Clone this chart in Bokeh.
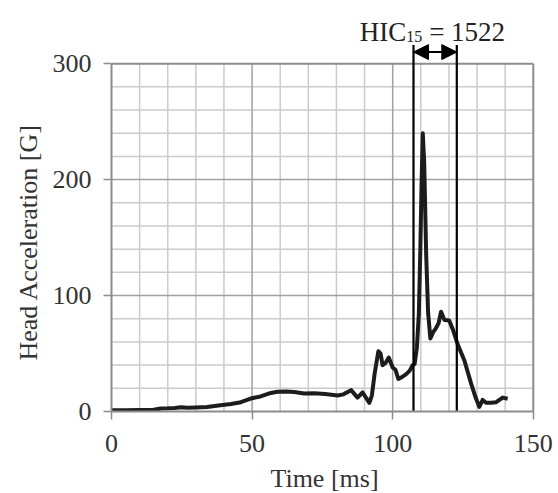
from bokeh.plotting import figure
from bokeh.models import Range1d, FixedTicker, Arrow, NormalHead, Title
from bokeh.core.properties import value
from bokeh.embed import file_html
from bokeh.resources import INLINE

# ---- data ----
time_ms = [0, 5, 10, 15, 17.5, 20, 22.5, 24.7, 27, 30, 34, 38, 42.5, 46, 50, 53, 56.7, 59,
           62, 65, 68.5, 72, 76, 80.4, 82.5, 85.2, 87.5, 89.3, 91.7, 92.6, 93.6, 94.9,
           95.7, 96.4, 97.5, 98.6, 100, 101, 102, 103.5, 104.7, 106, 107.1, 107.8, 108.6,
           109.3, 109.8, 110.3, 110.7, 111.2, 111.9, 112.6, 113.4, 114.3, 115.4, 116.3,
           117.2, 118.4, 120.1, 121.5, 123.1, 125.5, 127.9, 129.5, 130.8, 132, 133.2, 135,
           136.8, 139.1, 140.9]
accel_g = [1.0, 1.0, 1.2, 1.5, 2.6, 2.7, 3.0, 3.6, 3.2, 3.4, 3.8, 5.2, 6.4, 8.0, 11.5, 13.0,
           16.0, 17.0, 17.3, 16.8, 15.6, 15.8, 15.0, 13.8, 14.8, 18.4, 12.0, 16.4, 7.5, 14.0,
           33.0, 52.0, 50.0, 40.0, 42.0, 46.5, 38.0, 36.0, 28.0, 30.0, 32.0, 35.0, 40.0, 41.0,
           55.0, 84.0, 136.0, 200.0, 240.0, 215.0, 136.0, 85.0, 63.0, 68.0, 72.0, 76.0,
           86.0, 79.0, 78.5, 70.0, 58.0, 44.0, 24.0, 12.0, 4.0, 10.0, 7.5, 7.5,
           8.0, 12.0, 11.0]
hic_window = [107.4, 122.8]
hic_text = ["HIC", "15", "= 1522"]
x_ticks = [0, 50, 100, 150]
y_ticks = [0, 100, 200, 300]
x_minor = list(range(10, 150, 10))
y_minor = list(range(20, 300, 20))

FONT = "Liberation Serif"
GRID_LIGHT = "#cbcbcb"
GRID_DARK = "#a0a0a0"
FRAME = "#8c8c8c"
INK = "#1c1c1c"
TEXT = "#333333"

FRAME_W, FRAME_H = 426, 400
X_END, Y_END = 151.5, 345

x0, x1 = x_ticks[0], x_ticks[-1]
y0, y1 = y_ticks[0], y_ticks[-1]

p = figure(frame_width=FRAME_W, frame_height=FRAME_H,
           x_range=Range1d(0, X_END), y_range=Range1d(0, Y_END),
           min_border_left=111, min_border_right=19, min_border_top=11, min_border_bottom=82,
           output_backend="svg", toolbar_location=None)
p.outline_line_color = None
p.xgrid.visible = False
p.ygrid.visible = False
p.background_fill_color = "white"

# minor grid
light_x = [v for v in x_minor if v not in x_ticks]
light_y = [v for v in y_minor if v not in y_ticks]
p.segment(x0=light_x, y0=[y0] * len(light_x), x1=light_x, y1=[y1] * len(light_x),
          line_color=GRID_LIGHT, line_width=1.5)
p.segment(x0=[x0] * len(light_y), y0=light_y, x1=[x1] * len(light_y), y1=light_y,
          line_color=GRID_LIGHT, line_width=1.5)
# major grid
mx = x_ticks[1:-1]
my = y_ticks[1:-1]
p.segment(x0=mx, y0=[y0] * len(mx), x1=mx, y1=[y1] * len(mx),
          line_color=GRID_DARK, line_width=1.5)
p.segment(x0=[x0] * len(my), y0=my, x1=[x1] * len(my), y1=my,
          line_color=GRID_DARK, line_width=1.5)
# top & right frame
p.segment(x0=[x0, x1], y0=[y1, y0], x1=[x1, x1], y1=[y1, y1],
          line_color=FRAME, line_width=2)

# curve
p.line(time_ms, accel_g, line_color=INK, line_width=4, line_join="round")

# HIC window
p.segment(x0=hic_window, y0=[0, 0], x1=hic_window, y1=[316, 316],
          line_color="black", line_width=2.2)
p.add_layout(Arrow(start=NormalHead(size=15, fill_color="black", line_color="black"),
                   end=NormalHead(size=15, fill_color="black", line_color="black"),
                   x_start=hic_window[0], x_end=hic_window[1], y_start=310, y_end=310,
                   line_color="black", line_width=2))
mid = (hic_window[0] + hic_window[1]) / 2
p.text(x=[mid], y=[327], text=[hic_text[0]], text_font=value(FONT), text_font_size="27px",
       text_align="right", text_baseline="alphabetic", x_offset=-29, text_color="#222222")
p.text(x=[mid], y=[327], text=[hic_text[1]], text_font=value(FONT), text_font_size="16px",
       text_align="left", text_baseline="alphabetic", x_offset=-29, y_offset=4,
       text_color="#222222")
p.text(x=[mid], y=[327], text=[hic_text[2]], text_font=value(FONT), text_font_size="27px",
       text_align="left", text_baseline="alphabetic", x_offset=-6, text_color="#222222")

# axes
for ax, ticks, bnds in ((p.xaxis[0], x_ticks, (x0, x1)), (p.yaxis[0], y_ticks, (y0, y1))):
    ax.ticker = FixedTicker(ticks=ticks)
    ax.bounds = bnds
    ax.axis_line_color = FRAME
    ax.axis_line_width = 2
    ax.major_tick_line_color = FRAME
    ax.major_tick_line_width = 1.5
    ax.major_tick_out = 8
    ax.major_tick_in = 0
    ax.minor_tick_line_color = None
    ax.major_label_text_font = FONT
    ax.major_label_text_font_size = "26px"
    ax.major_label_text_color = TEXT
    ax.axis_label_text_font = FONT
    ax.axis_label_text_font_size = "26px"
    ax.axis_label_text_font_style = "normal"
    ax.axis_label_text_color = TEXT

p.xaxis.axis_label = "Time [ms]"
p.xaxis.major_label_standoff = 15
p.xaxis.axis_label_standoff = 9
p.xaxis.axis_label_text_line_height = 1.0
p.yaxis.major_label_standoff = 12

# y-axis title: starts at the bottom of the frame, lifted to sit on the 0-300 span
p.add_layout(Title(text="Head Acceleration [G]", align="left", offset=51, standoff=13,
                   text_font=FONT, text_font_size="26px", text_font_style="normal",
                   text_color=TEXT), "left")

open("out.html", "w").write(file_html(p, INLINE))
